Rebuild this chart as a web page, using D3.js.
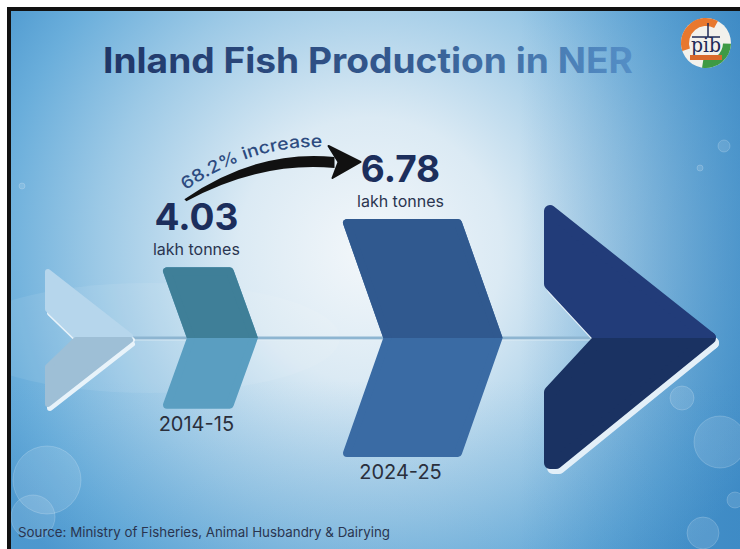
<!DOCTYPE html>
<html>
<head>
<meta charset="utf-8">
<script src="https://cdn.jsdelivr.net/npm/d3@7"></script>
<style>
  html, body { margin: 0; padding: 0; background: #ffffff; }
  svg { display: block; }
</style>
</head>
<body>
<div id="chart"></div>
<script>
// ---------------- data ----------------
const title = "Inland Fish Production in NER";
const categories = ["2014-15", "2024-25"];
const values = [4.03, 6.78];
const valueLabels = ["4.03", "6.78"];
const unitLabel = "lakh tonnes";
const increaseLabel = "68.2% increase";
const sourceText = "Source: Ministry of Fisheries, Animal Husbandry & Dairying";

// ---------------- setup ----------------
const W = 740, H = 549;
const svg = d3.select("#chart").append("svg").attr("width", W).attr("height", H);
const defs = svg.append("defs");
const FONT = "Inter, 'Open Sans', 'DejaVu Sans', sans-serif";

// background gradients
const bg = defs.append("radialGradient").attr("id", "bg")
  .attr("gradientUnits", "userSpaceOnUse").attr("cx", 370).attr("cy", 250).attr("r", 440);
[[0, "#f3f7fa"], [0.3, "#dbeaf4"], [0.62, "#9cc9e6"], [0.85, "#6aaedb"], [1, "#4f9ad0"]]
  .forEach(([o, c]) => bg.append("stop").attr("offset", o).attr("stop-color", c));
const rightShade = defs.append("linearGradient").attr("id", "rshade")
  .attr("gradientUnits", "userSpaceOnUse").attr("x1", 520).attr("x2", 740).attr("y1", 0).attr("y2", 0);
rightShade.append("stop").attr("offset", 0).attr("stop-color", "#2a78b8").attr("stop-opacity", 0);
rightShade.append("stop").attr("offset", 1).attr("stop-color", "#2a78b8").attr("stop-opacity", 0.45);
const bottomShade = defs.append("linearGradient").attr("id", "bshade")
  .attr("gradientUnits", "userSpaceOnUse").attr("x1", 0).attr("x2", 0).attr("y1", 380).attr("y2", 549);
bottomShade.append("stop").attr("offset", 0).attr("stop-color", "#3f8cc6").attr("stop-opacity", 0);
bottomShade.append("stop").attr("offset", 1).attr("stop-color", "#3f8cc6").attr("stop-opacity", 0.18);

const titleGrad = defs.append("linearGradient").attr("id", "tgrad")
  .attr("gradientUnits", "userSpaceOnUse").attr("x1", 100).attr("x2", 640).attr("y1", 0).attr("y2", 0);
[[0, "#1f3566"], [0.55, "#34598f"], [1, "#5590c8"]]
  .forEach(([o, c]) => titleGrad.append("stop").attr("offset", o).attr("stop-color", c));

// frame
svg.append("rect").attr("x", 7).attr("y", 7).attr("width", W).attr("height", H).attr("fill", "#111");
const clip = defs.append("clipPath").attr("id", "frameclip");
clip.append("rect").attr("x", 11).attr("y", 11).attr("width", W - 11).attr("height", H - 11);
const g = svg.append("g").attr("clip-path", "url(#frameclip)");
g.append("rect").attr("x", 11).attr("y", 11).attr("width", W).attr("height", H).attr("fill", "url(#bg)");
g.append("rect").attr("x", 11).attr("y", 11).attr("width", W).attr("height", H).attr("fill", "url(#rshade)");
g.append("rect").attr("x", 11).attr("y", 11).attr("width", W).attr("height", H).attr("fill", "url(#bshade)");

// soft lens behind the tail
g.append("ellipse").attr("cx", 150).attr("cy", 338).attr("rx", 190).attr("ry", 55)
  .attr("fill", "#ffffff").attr("opacity", 0.08);

// bubbles (decoration)
const bubbles = [[47, 480, 34], [33, 517, 22], [720, 442, 26], [682, 398, 12], [703, 533, 16],
                 [724, 146, 6], [700, 168, 3], [22, 186, 3], [735, 500, 8]];
g.selectAll("circle.bubble").data(bubbles).join("circle").attr("class", "bubble")
  .attr("cx", d => d[0]).attr("cy", d => d[1]).attr("r", d => d[2])
  .attr("fill", "#ffffff").attr("fill-opacity", 0.12)
  .attr("stroke", "#ffffff").attr("stroke-opacity", 0.18).attr("stroke-width", 1);

// ---------------- scales ----------------
const cy = 338;
const hScale = d3.scaleLinear().domain([0, d3.max(values)]).range([0, 119]); // half height
const xScale = d3.scalePoint().domain(categories).range([163, 343]);
const line = d3.line().curve(d3.curveLinearClosed);

// centre line
g.append("line").attr("x1", 130).attr("x2", 600).attr("y1", cy).attr("y2", cy)
  .attr("stroke", "#8db5d1").attr("stroke-width", 3);
g.append("line").attr("x1", 130).attr("x2", 600).attr("y1", cy + 2).attr("y2", cy + 2)
  .attr("stroke", "#e6f1f8").attr("stroke-width", 1).attr("opacity", 0.7);

// tail (fletching)
function roundedShape(parent, pts, fill, sw) {
  parent.append("path").attr("d", line(pts)).attr("fill", fill)
    .attr("stroke", fill).attr("stroke-width", sw).attr("stroke-linejoin", "round");
}
const tailTop = [[48, cy - 66], [130, cy - 2], [76, cy - 2], [48, cy - 29]];
const tailBot = [[48, cy + 66], [130, cy + 2], [76, cy + 2], [48, cy + 29]];
roundedShape(g.append("g").attr("transform", "translate(2,4)"), tailTop, "#e8f3fa", 6);
roundedShape(g.append("g").attr("transform", "translate(2,4)"), tailBot, "#e8f3fa", 6);
roundedShape(g, tailTop, "#b6d6ec", 6);
roundedShape(g, tailBot, "#9ebfd6", 6);

// chevrons for the data
const topColors = ["#3f7f98", "#30598f"];
const botColors = ["#5a9ec1", "#3a6ba4"];
defs.append("clipPath").attr("id", "tophalf").append("rect")
  .attr("x", 0).attr("y", 0).attr("width", W).attr("height", cy);

categories.forEach((c, i) => {
  const h = hScale(values[i]);
  const x0 = xScale(c);
  const w = h * 1.0, d = h * 0.34, r = 4;
  const pts = [[x0 + r, cy - h + r], [x0 + w - r, cy - h + r], [x0 + w + d - r, cy],
               [x0 + w - r, cy + h - r], [x0 + r, cy + h - r], [x0 + d + r, cy]];
  const cg = g.append("g");
  roundedShape(cg, pts, botColors[i], 2 * r);
  roundedShape(cg.append("g").attr("clip-path", "url(#tophalf)"), pts, topColors[i], 2 * r);

  const cx = x0 + w / 2 - 2;
  // value label
  g.append("text").attr("x", cx).attr("y", cy - h - 37).attr("text-anchor", "middle")
    .attr("font-family", FONT).attr("font-weight", 700).attr("font-size", 37)
    .attr("fill", "#1c2e5c").text(valueLabels[i]);
  g.append("text").attr("x", cx).attr("y", cy - h - 12).attr("text-anchor", "middle")
    .attr("font-family", FONT).attr("font-weight", 400).attr("font-size", 16)
    .attr("fill", "#2a3550").text(unitLabel);
  // category label
  g.append("text").attr("x", cx).attr("y", cy + h + 22).attr("text-anchor", "middle")
    .attr("font-family", FONT).attr("font-weight", 400).attr("font-size", 20)
    .attr("fill", "#2a2f3c").text(c);
});

// big arrow head (decoration)
const headTop = [[550, 211], [710, cy], [600, cy], [550, 284]];
const headBot = [[600, cy], [710, cy], [556, 463], [550, 463], [550, 392]];
roundedShape(g.append("g").attr("transform", "translate(3,5)"), headTop, "#e3eff8", 12);
roundedShape(g.append("g").attr("transform", "translate(3,5)"), headBot, "#e3eff8", 12);
roundedShape(g, headBot, "#1a3262", 12);
roundedShape(g.append("g").attr("clip-path", "url(#tophalf)"), headTop, "#223c79", 12);

// curved increase arrow
const h1 = hScale(values[0]), h2 = hScale(values[1]);
const lx1 = xScale(categories[0]) + h1 / 2 - 2;
const lx2 = xScale(categories[1]) + h2 / 2 - 2;
const sx = lx1 - 12, sy = cy - h1 - 68;
const ex = lx2 - 66, ey = cy - h2 - 57;
g.append("path")
  .attr("d", `M${sx},${sy} Q${sx + 72},${sy - 50} ${ex},${ey - 5} L${ex},${ey + 6} Q${sx + 76},${sy - 38} ${sx + 2},${sy + 2} Z`)
  .attr("fill", "#111");
g.append("path")
  .attr("d", `M${ex - 6},${ey - 16} L${ex + 26},${ey} L${ex - 2},${ey + 16} L${ex + 4},${ey} Z`)
  .attr("fill", "#111").attr("stroke", "#111").attr("stroke-width", 2).attr("stroke-linejoin", "round");

defs.append("path").attr("id", "incpath")
  .attr("d", `M${sx + 1},${sy - 9} Q${sx + 70},${sy - 56} ${sx + 143},${sy - 52}`);
g.append("text").attr("font-family", FONT).attr("font-size", 17).attr("font-weight", 500)
  .attr("fill", "#2d4b80")
  .append("textPath").attr("href", "#incpath").attr("startOffset", 0)
  .attr("textLength", 146).attr("lengthAdjust", "spacingAndGlyphs").text(increaseLabel);

// title
g.append("text").attr("x", 103).attr("y", 73)
  .attr("font-family", FONT).attr("font-weight", 700).attr("font-size", 35)
  .attr("textLength", 530).attr("lengthAdjust", "spacingAndGlyphs")
  .attr("fill", "url(#tgrad)").text(title);

// logo
const logo = g.append("g").attr("transform", "translate(706,43)");
logo.append("circle").attr("r", 25).attr("fill", "#f2f1ec");
const arc = d3.arc();
logo.append("path").attr("d", arc({innerRadius: 17, outerRadius: 25, startAngle: -1.9, endAngle: 0.5}))
  .attr("fill", "#e8782e");
logo.append("path").attr("d", arc({innerRadius: 17, outerRadius: 25, startAngle: 1.6, endAngle: 3.3}))
  .attr("fill", "#3e9a45");
logo.append("line").attr("x1", -14).attr("x2", 14).attr("y1", -6).attr("y2", -6)
  .attr("stroke", "#1e2a57").attr("stroke-width", 1.5);
logo.append("line").attr("x1", 2).attr("x2", 2).attr("y1", -20).attr("y2", -6)
  .attr("stroke", "#1e2a57").attr("stroke-width", 1.5);
logo.append("text").attr("x", 0).attr("y", 9).attr("text-anchor", "middle")
  .attr("font-family", "'DejaVu Serif', serif").attr("font-size", 20).attr("fill", "#1e2a57")
  .attr("textLength", 30).attr("lengthAdjust", "spacingAndGlyphs").text("pib");
logo.append("rect").attr("x", -16).attr("y", 12).attr("width", 32).attr("height", 5).attr("fill", "#d9692b");

// source
g.append("text").attr("x", 18).attr("y", 537)
  .attr("font-family", FONT).attr("font-size", 13.5).attr("fill", "#2a3550")
  .attr("textLength", 372).attr("lengthAdjust", "spacingAndGlyphs").text(sourceText);
</script>
</body>
</html>
